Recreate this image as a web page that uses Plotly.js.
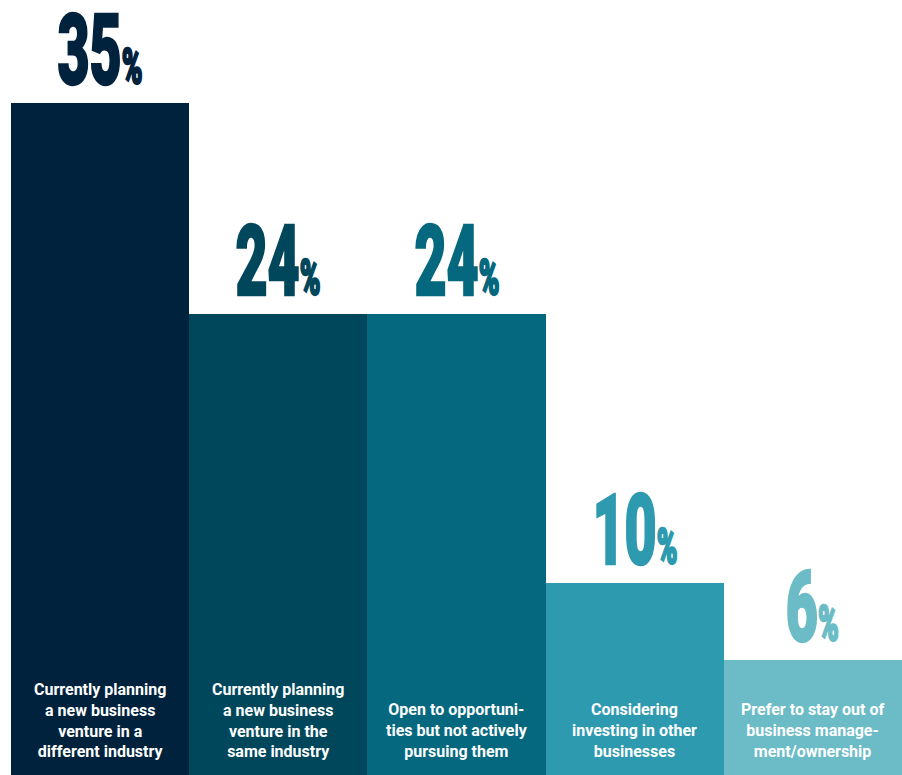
<!DOCTYPE html>
<html>
<head>
<meta charset="utf-8">
<script src="https://cdn.plot.ly/plotly-3.0.1.min.js"></script>
<style>
  html, body { margin: 0; padding: 0; background: #ffffff; }
  #chart { width: 902px; height: 775px; }
</style>
</head>
<body>
<div id="chart"></div>
<script>
// ---- data ----
const categories = [
  "Currently planning<br>a new business<br>venture in a<br>different industry",
  "Currently planning<br>a new business<br>venture in the<br>same industry",
  "Open to opportuni-<br>ties but not actively<br>pursuing them",
  "Considering<br>investing in other<br>businesses",
  "Prefer to stay out of<br>business manage-<br>ment/ownership"
];
const values = [35, 24, 24, 10, 6];
const barColors = ["#00223d", "#00475c", "#05687e", "#2e9aaf", "#6bbcc6"];

const xIdx = categories.map((_, i) => i);

const trace = {
  type: "bar",
  x: xIdx,
  y: values,
  marker: { color: barColors, line: { width: 0 } },
  hoverinfo: "skip"
};

const annotations = [];
values.forEach((v, i) => {
  annotations.push({
    x: i, y: v, xref: "x", yref: "y",
    text: v + "<span style='font-size:50px'>%</span>",
    showarrow: false,
    xanchor: "center", yanchor: "bottom",
    yshift: -7,
    font: { family: "Roboto, 'DejaVu Sans', sans-serif", size: 99, color: barColors[i], weight: 900 }
  });
});
categories.forEach((c, i) => {
  annotations.push({
    x: i, y: 0, xref: "x", yref: "y",
    text: c,
    showarrow: false,
    xanchor: "center", yanchor: "bottom",
    align: "center",
    yshift: 12,
    font: { family: "Roboto, Inter, sans-serif", size: 16, color: "#ffffff", weight: 700 }
  });
});

const layout = {
  width: 902, height: 775,
  margin: { l: 11, r: 0, t: 0, b: 0, pad: 0 },
  paper_bgcolor: "#ffffff",
  plot_bgcolor: "#ffffff",
  bargap: 0,
  showlegend: false,
  xaxis: { range: [-0.5, 4.5], visible: false, fixedrange: true },
  yaxis: { range: [0, 40.35], visible: false, fixedrange: true },
  annotations: annotations
};

Plotly.newPlot("chart", [trace], layout, { staticPlot: true, displayModeBar: false }).then(() => {
  document.querySelectorAll("g.annotation").forEach(g => {
    const idx = +g.getAttribute("data-index");
    if (idx < values.length) {
      const t = g.querySelector("text");
      t.style.transformBox = "fill-box";
      t.style.transformOrigin = "50% 100%";
      t.style.transform = "scaleX(0.56)";
      t.style.stroke = barColors[idx];
      t.style.strokeWidth = "2.5px";
      t.style.strokeLinejoin = "miter";
    }
  });
});
</script>
</body>
</html>
